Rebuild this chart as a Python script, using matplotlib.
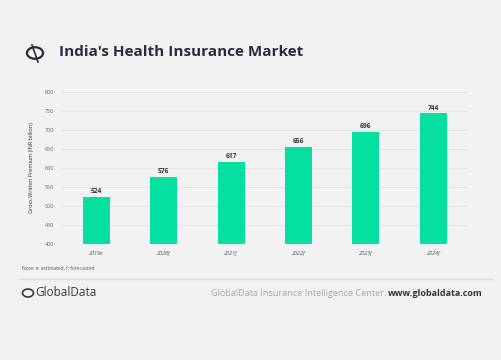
import matplotlib.pyplot as plt
from matplotlib.patches import Circle
from matplotlib.lines import Line2D

years = ['2019e', '2020f', '2021f', '2022f', '2023f', '2024f']
premium = [524, 576, 617, 656, 696, 744]
yticks = [400, 450, 500, 550, 600, 650, 700, 750, 800]

bg = '#f2f2f2'
green = '#05dfa0'
navy = '#2b2b3f'

plt.rcParams['font.family'] = ['Open Sans', 'DejaVu Sans']

fig = plt.figure(figsize=(5.02, 3.6), dpi=100, facecolor=bg)
ax = fig.add_axes([0.1245, 0.322, 0.806, 0.422], facecolor=bg)

ax.bar(range(len(years)), premium, width=0.4, color=green, zorder=3)
for i, v in enumerate(premium):
    ax.text(i, v + 5, str(v), ha='center', va='bottom', fontsize=4.8,
            fontweight='bold', color='#333333')

ax.set_xlim(-0.5, len(years) - 0.5)
ax.set_ylim(400, 800)
ax.set_yticks(yticks)
ax.set_xticks(range(len(years)))
ax.set_xticklabels(years, fontsize=4, style='italic', color='#555555')
ax.tick_params(axis='y', labelsize=4, colors='#666666', length=0, pad=6)
ax.tick_params(axis='x', length=0, pad=5)
ax.grid(axis='y', color='#e0e0e0', linewidth=0.6, zorder=0)
for s in ax.spines.values():
    s.set_visible(False)
ax.set_ylabel('Gross Written Premium (INR billion)', fontsize=4, color='#333333', labelpad=8)

# title and icon
fig.text(0.117, 0.855, "India's Health Insurance Market", fontsize=11,
         fontweight='bold', color=navy, va='center')
icon = Circle((35 / 502, 1 - 53 / 360), 0.016, transform=fig.transFigure,
              fill=False, edgecolor=navy, linewidth=1.6)
fig.add_artist(icon)
fig.add_artist(Line2D([32 / 502, 38 / 502], [1 - 45 / 360, 1 - 62 / 360],
                      transform=fig.transFigure, color=navy, linewidth=1.2))

# note and footer
fig.text(22 / 502, 1 - 268 / 360, 'Note: e: estimated, f: forecasted', fontsize=3.5,
         color='#555555', va='center')
fig.add_artist(Line2D([20 / 502, 493 / 502], [1 - 279 / 360, 1 - 279 / 360],
                      transform=fig.transFigure, color='#dcdcdc', linewidth=1.0))
logo = Circle((28 / 502, 1 - 293 / 360), 0.011, transform=fig.transFigure,
              fill=False, edgecolor='#3a3a3a', linewidth=1.2)
fig.add_artist(logo)
fig.text(35 / 502, 1 - 293 / 360, 'GlobalData', fontsize=8.5, color='#3a3a3a', va='center')
fig.text(483 / 502, 1 - 293 / 360, 'www.globaldata.com', fontsize=6.5,
         fontweight='bold', color='#333333', ha='right', va='center')
fig.text(386 / 502, 1 - 293 / 360, 'GlobalData Insurance Intelligence Center.', fontsize=6.6,
         color='#a8a8a8', ha='right', va='center')

fig.savefig('out.png', dpi=100, facecolor=bg)
